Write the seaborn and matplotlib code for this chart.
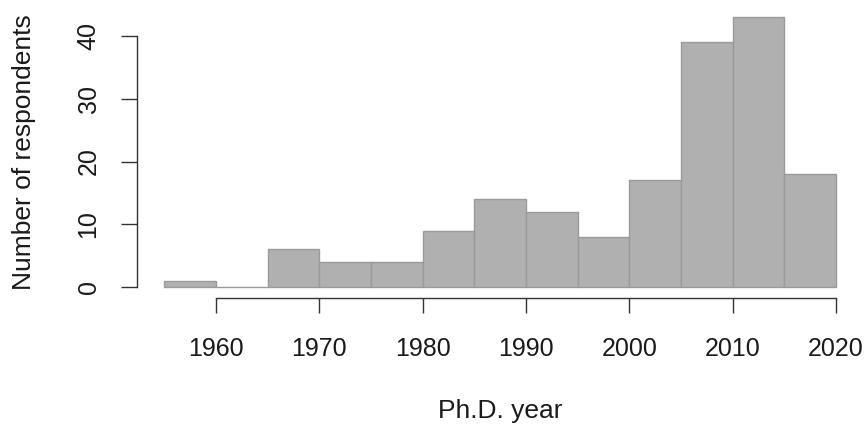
import matplotlib
matplotlib.use("Agg")
import matplotlib.pyplot as plt
import seaborn as sns
import numpy as np

# Ph.D. year histogram, 5-year bins
bin_edges = [1955, 1960, 1965, 1970, 1975, 1980, 1985, 1990, 1995, 2000, 2005, 2010, 2015, 2020]
counts = [1, 0, 6, 4, 4, 9, 14, 12, 8, 17, 39, 43, 18]
x_ticks = [1960, 1970, 1980, 1990, 2000, 2010, 2020]
y_ticks = [0, 10, 20, 30, 40]

sns.set_style("white")
plt.rcParams['font.family'] = ['Liberation Sans', 'DejaVu Sans']

mids = [(a + b) / 2 for a, b in zip(bin_edges[:-1], bin_edges[1:])]

fig = plt.figure(figsize=(8.67, 4.25), dpi=100)
ax = fig.add_axes([0.1585, 0.2993, 0.8368, 0.6856])

sns.histplot(x=mids, weights=counts, bins=bin_edges, color="#b0b0b0",
             edgecolor="#9a9a9a", linewidth=1.0, alpha=1, ax=ax)

# R style limits (4% padding)
xr = bin_edges[-1] - bin_edges[0]
ax.set_xlim(bin_edges[0] - 0.04 * xr, bin_edges[-1] + 0.04 * xr)
ymax = max(counts)
ax.set_ylim(-0.04 * ymax, ymax * 1.04)

ax.set_xticks(x_ticks)
ax.set_yticks(y_ticks)
sns.despine(ax=ax)
ax.spines['left'].set_bounds(0, 40)
ax.spines['bottom'].set_bounds(1960, 2020)
for s in ['left', 'bottom']:
    ax.spines[s].set_color("#333333")
    ax.spines[s].set_linewidth(1.0)

ax.tick_params(axis='x', length=11, width=1.0, color="#333333", pad=17,
               labelsize=18, labelcolor="#1a1a1a", bottom=True)
ax.tick_params(axis='y', length=11.5, width=1.0, color="#333333", pad=15,
               labelsize=18, labelcolor="#1a1a1a", left=True, labelrotation=90)
for lab in ax.get_yticklabels():
    lab.set_va('center')

ax.set_xlabel("Ph.D. year", fontsize=19, color="#1a1a1a", va='center')
ax.set_ylabel("Number of respondents", fontsize=19, color="#1a1a1a", va='center')
ax.xaxis.set_label_coords(0.5, -0.39)
ax.yaxis.set_label_coords(-0.157, 0.5)

fig.savefig("out.png", dpi=100)
